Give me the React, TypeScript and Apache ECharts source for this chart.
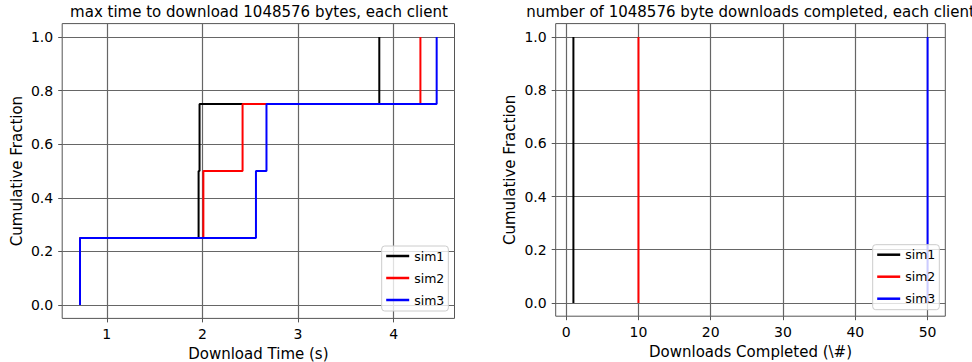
import React, { useEffect, useRef } from "react";
import * as echarts from "echarts";

const seriesNames = ["sim1", "sim2", "sim3"];
const seriesColors = ["#000000", "#ff0000", "#0000ff"];

// max download time per client (s), 4 clients per sim
const sim1Times = [0.72, 1.96, 1.97, 3.85];
const sim2Times = [0.72, 2.01, 2.42, 4.28];
const sim3Times = [0.72, 2.56, 2.67, 4.45];

// number of downloads completed per client
const sim1Counts = [1, 1, 1, 1];
const sim2Counts = [10, 10, 10, 10];
const sim3Counts = [50, 50, 50, 50];

const leftXTicks = [1, 2, 3, 4];
const rightXTicks = [0, 10, 20, 30, 40, 50];
const yTicks = [0, 0.2, 0.4, 0.6, 0.8, 1.0];

const leftTitle = "max time to download 1048576 bytes, each client";
const rightTitle = "number of 1048576 byte downloads completed, each client";
const leftXName = "Download Time (s)";
const rightXName = "Downloads Completed (\\#)";
const yName = "Cumulative Fraction";

function cdf(values: number[]): number[][] {
  const s = [...values].sort((a, b) => a - b);
  const n = s.length;
  const pts: number[][] = [[s[0], 0]];
  s.forEach((v, i) => pts.push([v, (i + 1) / n]));
  return pts;
}

function paddedRange(groups: number[][]): [number, number] {
  const all = groups.flat();
  const lo = Math.min(...all);
  const hi = Math.max(...all);
  const m = (hi - lo) * 0.05;
  return [lo - m, hi + m];
}

const FONT = "DejaVu Sans";

export default function App() {
  const ref = useRef<HTMLDivElement>(null);
  useEffect(() => {
    if (!ref.current) return;
    const chart = echarts.init(ref.current, undefined, { renderer: "svg" });
    const leftRange = paddedRange([sim1Times, sim2Times, sim3Times]);
    const rightRange = paddedRange([sim1Counts, sim2Counts, sim3Counts]);

    const xAxisCommon = (ticks: number[], range: [number, number], gi: number, name: string) => ({
      type: "value",
      gridIndex: gi,
      min: range[0],
      max: range[1],
      name,
      nameLocation: "middle",
      nameGap: 24.5,
      nameTextStyle: { fontFamily: FONT, fontSize: 15, color: "#000" },
      axisLine: { show: false, onZero: false },
      axisTick: { show: true, length: 4, customValues: ticks, lineStyle: { color: "#555", width: 1 } },
      axisLabel: {
        customValues: ticks, margin: 9, fontFamily: FONT, fontSize: 14, color: "#000",
        formatter: (v: number) => String(v),
      },
      splitLine: { show: true, lineStyle: { color: "#666", width: 1.2 } },
    });

    const yAxisCommon = (gi: number) => ({
      type: "value",
      gridIndex: gi,
      min: -0.05,
      max: 1.05,
      name: yName,
      nameLocation: "middle",
      nameGap: 38,
      nameTextStyle: { fontFamily: FONT, fontSize: 15, color: "#000" },
      axisLine: { show: false, onZero: false },
      axisTick: { show: true, length: 4, customValues: yTicks, lineStyle: { color: "#555", width: 1 } },
      axisLabel: {
        customValues: yTicks, margin: 9, fontFamily: FONT, fontSize: 14, color: "#000",
        formatter: (v: number) => v.toFixed(1),
      },
      splitLine: { show: true, lineStyle: { color: "#666", width: 1.2 } },
    });

    const legendCommon = (left: number, top: number) => ({
      orient: "vertical",
      left,
      top,
      data: seriesNames,
      icon: "rect",
      padding: [3, 4, 4, 4.5],
      itemWidth: 23,
      itemHeight: 2.5,
      itemGap: 8,
      borderColor: "#cccccc",
      borderWidth: 1,
      borderRadius: 3,
      backgroundColor: "rgba(255,255,255,0.8)",
      selectedMode: false,
      textStyle: { fontFamily: FONT, fontSize: 12.5, lineHeight: 14, color: "#000" },
    });

    const leftData = [sim1Times, sim2Times, sim3Times];
    const rightData = [sim1Counts, sim2Counts, sim3Counts];

    const series: any[] = [];
    leftData.forEach((d, i) =>
      series.push({
        type: "line", name: seriesNames[i], xAxisIndex: 0, yAxisIndex: 0, data: cdf(d), step: "end", symbol: "none",
        lineStyle: { color: seriesColors[i], width: 2 }, itemStyle: { color: seriesColors[i] },
      })
    );
    rightData.forEach((d, i) =>
      series.push({
        type: "line", name: seriesNames[i], xAxisIndex: 1, yAxisIndex: 1, data: cdf(d), step: "end", symbol: "none",
        lineStyle: { color: seriesColors[i], width: 2 }, itemStyle: { color: seriesColors[i] },
      })
    );

    const titleStyle = { fontFamily: FONT, fontSize: 15, fill: "#000", textAlign: "center", textVerticalAlign: "middle" };

    chart.setOption({
      animation: false,
      backgroundColor: "#ffffff",
      textStyle: { fontFamily: FONT },
      grid: [
        {
          left: 62.2, top: 23.6, width: 392.3, height: 294.8, show: true, borderColor: "#555", borderWidth: 1,
          backgroundColor: "transparent", containLabel: false, outerBoundsMode: "none",
        },
        {
          left: 555.7, top: 23.6, width: 389.6, height: 292.6, show: true, borderColor: "#555", borderWidth: 1,
          backgroundColor: "transparent", containLabel: false, outerBoundsMode: "none",
        },
      ],
      xAxis: [xAxisCommon(leftXTicks, leftRange, 0, leftXName), xAxisCommon(rightXTicks, rightRange, 1, rightXName)],
      yAxis: [yAxisCommon(0), yAxisCommon(1)],
      legend: [legendCommon(381.7, 246), legendCommon(872.7, 244.7)],
      graphic: [
        { type: "text", x: 259, y: 12, style: { ...titleStyle, text: leftTitle } },
        { type: "text", x: 750.5, y: 12, style: { ...titleStyle, text: rightTitle } },
      ],
      series,
    });
    return () => chart.dispose();
  }, []);
  return <div ref={ref} style={{ position: "absolute", left: 0, top: 0, width: 972, height: 362 }} />;
}
